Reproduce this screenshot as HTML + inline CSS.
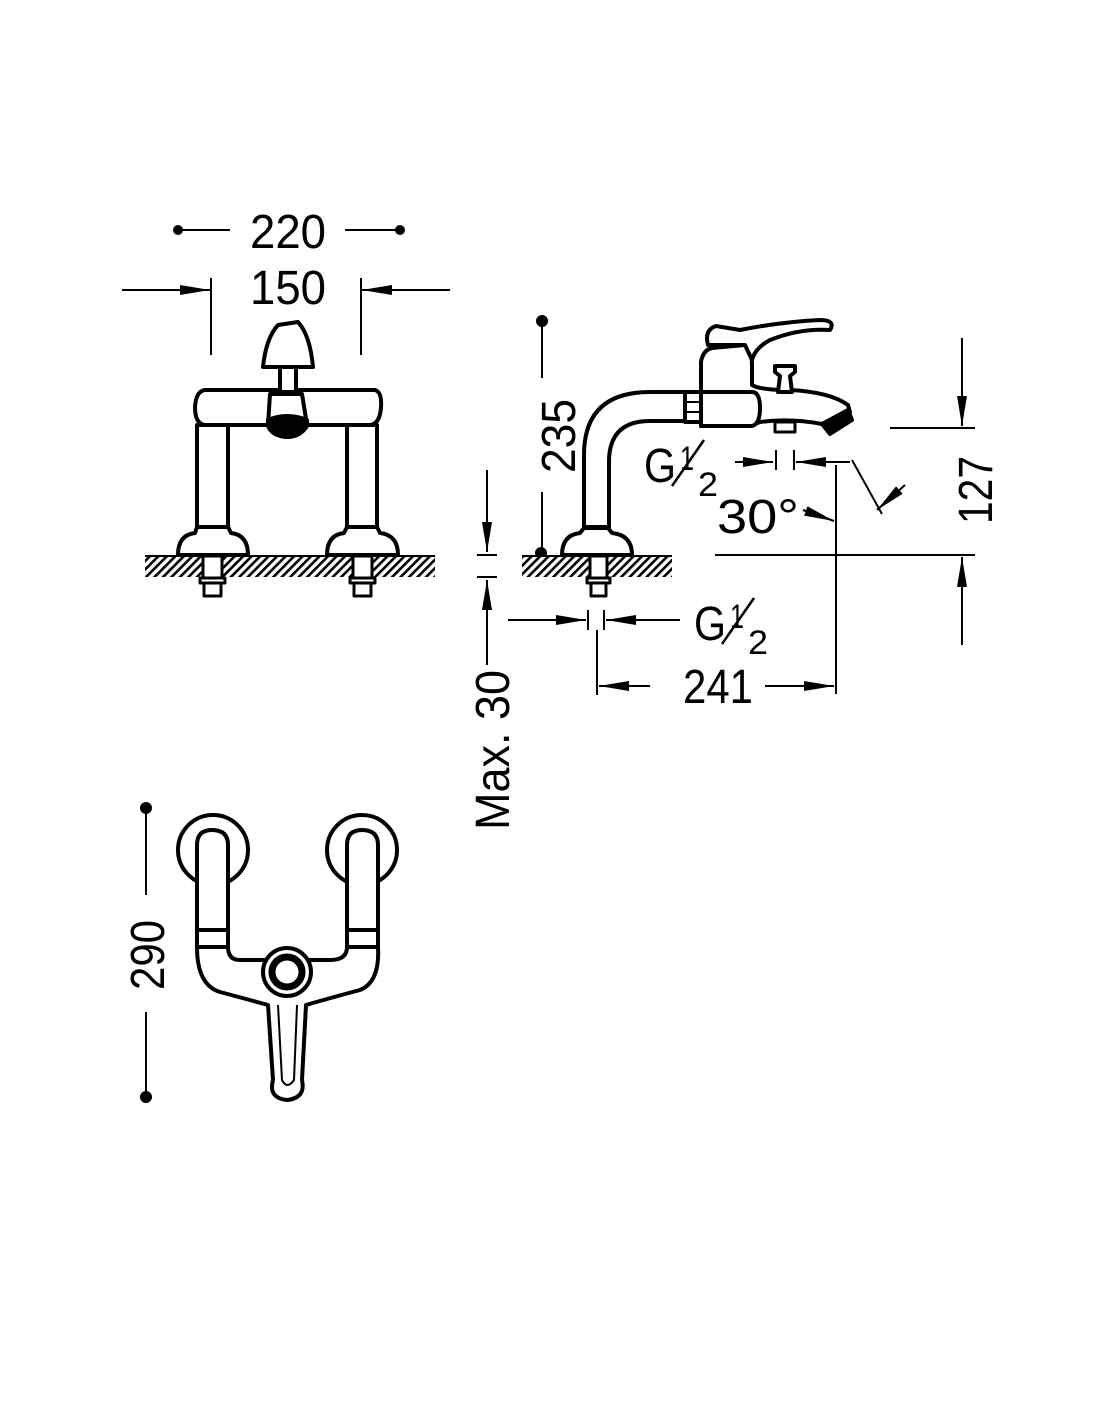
<!DOCTYPE html>
<html><head><meta charset="utf-8"><style>
html,body{margin:0;padding:0;background:#fff;}
svg{display:block}
text{font-family:"Liberation Sans",sans-serif;fill:#000;}
</style></head><body>
<svg width="1100" height="1422" viewBox="0 0 1100 1422" xmlns="http://www.w3.org/2000/svg">
<defs>
<pattern id="h" width="6" height="6" patternUnits="userSpaceOnUse" patternTransform="rotate(45)">
<rect width="6" height="6" fill="#fff"/><rect width="2.6" height="6" fill="#000"/></pattern>
<marker id="A" viewBox="0 0 30 10" refX="30" refY="5" markerWidth="30" markerHeight="10" markerUnits="userSpaceOnUse" orient="auto"><path d="M0,0 L30,5 L0,10 Z" fill="#000"/></marker>
</defs>
<g stroke="#000" fill="none" stroke-width="2">
<circle cx="178" cy="230" r="4" fill="#000"/><circle cx="400" cy="230" r="4" fill="#000"/>
<line x1="178" y1="230" x2="230" y2="230"/><line x1="345" y1="230" x2="400" y2="230"/>
<line x1="122" y1="290" x2="210" y2="290" marker-end="url(#A)"/>
<line x1="450" y1="290" x2="362" y2="290" marker-end="url(#A)"/>
<line x1="211" y1="278" x2="211" y2="355"/><line x1="361" y1="278" x2="361" y2="355"/>
</g>
<text x="288" y="248" font-size="48" text-anchor="middle" textLength="76" lengthAdjust="spacingAndGlyphs">220</text>
<text x="288" y="304" font-size="48" text-anchor="middle" textLength="76" lengthAdjust="spacingAndGlyphs">150</text>

<!-- FRONT VIEW -->
<g stroke="#000" fill="#fff" stroke-width="4" stroke-linejoin="round">
<rect x="145" y="555" width="290" height="22" fill="url(#h)" stroke="none"/>
<line x1="145" y1="556" x2="435" y2="556" stroke-width="2"/>
<path d="M178,555 Q178,535 195,533 L197,527 L228,527 L231,533 Q248,535 248,555 Z"/>
<path d="M327,555 Q327,535 344,533 L347,527 L377,527 L380,533 Q398,535 398,555 Z"/>
<rect x="197" y="425" width="31" height="102"/>
<rect x="347" y="425" width="30" height="102"/>
<rect x="203" y="556" width="19" height="22" stroke-width="3"/><rect x="200" y="578" width="25" height="5" stroke-width="3"/><rect x="204" y="583" width="17" height="13" stroke-width="3"/>
<rect x="353" y="556" width="19" height="22" stroke-width="3"/><rect x="350" y="578" width="25" height="5" stroke-width="3"/><rect x="354" y="583" width="17" height="13" stroke-width="3"/>
<path d="M205,390 L375,390 Q382,392 381,407 Q380,424 370,425 L205,425 Q195,424 195,407 Q196,391 205,390 Z"/>
<path d="M263,367 Q266,338 278,325 L298,322 Q310,335 313,367 Z"/>
<rect x="280" y="367" width="16" height="25"/>
<path d="M268,425 L270,394 L302,394 L307,425 Q300,437 287,437 Q272,436 268,425 Z"/>
<path d="M268,420 Q287,412 307,420 L307,426 Q300,437 287,437 Q272,436 268,426 Z" fill="#000"/>
</g>

<!-- SIDE VIEW -->
<g stroke="#000" fill="none" stroke-width="2">
<circle cx="542" cy="321" r="5" fill="#000"/><line x1="542" y1="321" x2="542" y2="378"/>
<line x1="542" y1="492" x2="542" y2="553"/><circle cx="541" cy="553" r="5" fill="#000"/>
</g>
<text transform="translate(575,436) rotate(-90)" font-size="48" text-anchor="middle" textLength="74" lengthAdjust="spacingAndGlyphs">235</text>
<g stroke="#000" fill="#fff" stroke-width="4" stroke-linejoin="round">
<rect x="522" y="555" width="150" height="22" fill="url(#h)" stroke="none"/>
<line x1="522" y1="556" x2="672" y2="556" stroke-width="2"/>
<path d="M562,555 Q562,535 580,533 L584,528 L608,528 L612,533 Q632,535 632,555 Z"/>
<path d="M584,528 L584,455 Q584,392 650,392 L685,392 L685,421 L650,421 Q610,421 609,460 L609,528"/>
<line x1="584" y1="527" x2="609" y2="527"/>
<rect x="590" y="556" width="17" height="22" stroke-width="3"/><rect x="587" y="578" width="23" height="5" stroke-width="3"/><rect x="591" y="583" width="15" height="13" stroke-width="3"/>
<rect x="685" y="392" width="16" height="30"/>
<line x1="685" y1="402" x2="701" y2="402" stroke-width="2"/><line x1="685" y1="412" x2="701" y2="412" stroke-width="2"/>
<path d="M701,392 L701,362 Q703,350 712,348 L745,345 Q752,350 752,365 L752,385 Q760,390 790,390 Q830,392 848,405 L850,412 L830,430 L822,424 Q790,418 760,422 L750,426 L701,426 Z"/>
<path d="M752,392 Q760,392 760,408 Q760,424 752,426 L701,426 L701,392 Z"/>
<path d="M708,345 Q704,330 716,326 L740,330 Q780,322 820,320 Q836,320 830,330 Q800,328 770,340 Q755,348 752,360 L745,345 Z"/>
<path d="M778,392 L780,376 L775,372 L775,366 L795,366 L795,372 L790,376 L792,392 Z"/>
<rect x="775" y="422" width="20" height="10" stroke-width="3"/>
<path d="M822,424 L848,410 L852,420 L830,434 Z" fill="#000"/>
</g>
<g stroke="#000" fill="none" stroke-width="2">
<line x1="735" y1="462" x2="773" y2="462" marker-end="url(#A)"/>
<line x1="776" y1="450" x2="776" y2="470"/><line x1="794" y1="450" x2="794" y2="470"/>
<line x1="850" y1="462" x2="796" y2="462" marker-end="url(#A)"/>
<line x1="836" y1="465" x2="836" y2="694"/>
<line x1="852" y1="460" x2="882" y2="514"/>
<line x1="905" y1="485" x2="877" y2="510" marker-end="url(#A)"/>
<line x1="803" y1="510" x2="834" y2="521" marker-end="url(#A)"/>
<line x1="715" y1="555" x2="975" y2="555"/>
<line x1="890" y1="428" x2="975" y2="428"/>
<line x1="962" y1="338" x2="962" y2="426" marker-end="url(#A)"/>
<line x1="962" y1="645" x2="962" y2="557" marker-end="url(#A)"/>
<line x1="487" y1="470" x2="487" y2="552" marker-end="url(#A)"/>
<line x1="477" y1="555" x2="497" y2="555"/><line x1="477" y1="577" x2="497" y2="577"/>
<line x1="487" y1="665" x2="487" y2="580" marker-end="url(#A)"/>
<line x1="508" y1="620" x2="586" y2="620" marker-end="url(#A)"/>
<line x1="588" y1="610" x2="588" y2="630"/><line x1="604" y1="610" x2="604" y2="630"/>
<line x1="680" y1="620" x2="606" y2="620" marker-end="url(#A)"/>
<line x1="597" y1="630" x2="597" y2="695"/>
<line x1="650" y1="686" x2="599" y2="686" marker-end="url(#A)"/>
<line x1="765" y1="686" x2="834" y2="686" marker-end="url(#A)"/>
</g>
<text x="644" y="482" font-size="48" textLength="32" lengthAdjust="spacingAndGlyphs">G</text>
<text x="680" y="470" font-size="34" textLength="14" lengthAdjust="spacingAndGlyphs">1</text>
<line x1="672" y1="486" x2="704" y2="440" stroke="#000" stroke-width="2.5"/>
<text x="698" y="496" font-size="34" textLength="20" lengthAdjust="spacingAndGlyphs">2</text>
<text x="717" y="533" font-size="48" textLength="82" lengthAdjust="spacingAndGlyphs">30°</text>
<text transform="translate(992,490) rotate(-90)" font-size="48" text-anchor="middle" textLength="68" lengthAdjust="spacingAndGlyphs">127</text>
<text x="694" y="640" font-size="48" textLength="32" lengthAdjust="spacingAndGlyphs">G</text>
<text x="730" y="628" font-size="34" textLength="14" lengthAdjust="spacingAndGlyphs">1</text>
<line x1="722" y1="644" x2="754" y2="598" stroke="#000" stroke-width="2.5"/>
<text x="748" y="654" font-size="34" textLength="20" lengthAdjust="spacingAndGlyphs">2</text>
<text x="718" y="703" font-size="48" text-anchor="middle" textLength="70" lengthAdjust="spacingAndGlyphs">241</text>
<text transform="translate(509,750) rotate(-90)" font-size="48" text-anchor="middle" textLength="160" lengthAdjust="spacingAndGlyphs">Max. 30</text>

<!-- TOP VIEW -->
<g stroke="#000" fill="none" stroke-width="2">
<circle cx="146" cy="808" r="5" fill="#000"/><line x1="146" y1="808" x2="146" y2="895"/>
<line x1="146" y1="1012" x2="146" y2="1097"/><circle cx="146" cy="1097" r="5" fill="#000"/>
</g>
<text transform="translate(164,955) rotate(-90)" font-size="48" text-anchor="middle" textLength="70" lengthAdjust="spacingAndGlyphs">290</text>
<g stroke="#000" fill="#fff" stroke-width="4" stroke-linejoin="round">
<circle cx="213" cy="850" r="35"/><circle cx="362" cy="850" r="35"/>
<path d="M197,947 Q197,985 220,992 Q250,1000 268,1005 L273,1080 Q268,1098 287,1100 Q306,1098 302,1080 L306,1005 Q330,998 360,990 Q380,982 378,947 L347,947 Q347,960 330,960 L240,960 Q228,960 228,947 Z"/>
<path d="M197,930 L197,845 Q197,830 212,830 Q228,830 228,845 L228,930 Z"/>
<path d="M347,930 L347,845 Q347,830 362,830 Q378,830 378,845 L378,930 Z"/>
<rect x="197" y="930" width="31" height="17"/><rect x="347" y="930" width="31" height="17"/>
<path d="M278,1005 L282,1080 Q287,1090 294,1080 L297,1005" stroke-width="2"/>
<circle cx="287" cy="972" r="24"/>
<circle cx="287" cy="972" r="15" stroke-width="7"/>
</g>
</svg>
</body></html>
